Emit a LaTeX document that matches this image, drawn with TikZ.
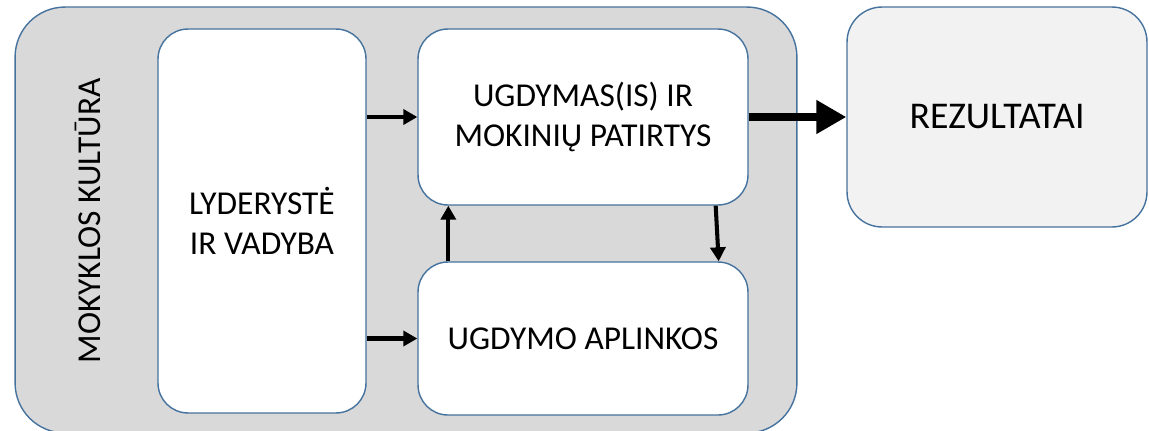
\documentclass[tikz,border=0pt]{standalone}
\usepackage{fontspec}
\setmainfont{Carlito}
\usetikzlibrary{arrows.meta, positioning}
\definecolor{edgeblue}{RGB}{70,114,158}
\definecolor{culturegray}{RGB}{217,217,217}
\definecolor{resultgray}{RGB}{242,242,242}
\tikzstyle{culture} = [
    rectangle,
    rounded corners=1cm,
    minimum width=15.64cm,
    minimum height=8.52cm,
    draw=edgeblue,
    line width=0.8pt,
    fill=culturegray
]
\tikzstyle{block} = [
    rectangle,
    rounded corners=0.6cm,
    align=center,
    draw=edgeblue,
    line width=0.8pt,
    fill=white,
    font=\fontsize{19}{22.5}\selectfont
]
\tikzstyle{result} = [
    block,
    rounded corners=0.7cm,
    fill=resultgray,
    font=\fontsize{21.5}{25}\selectfont
]
\tikzstyle{arrow} = [line width=2.3pt,-{Triangle[length=0.28cm,width=0.3cm]}]
\tikzstyle{bigarrow} = [line width=5pt,-{Triangle[length=0.6cm,width=0.64cm]}]

\begin{document}
\begin{tikzpicture}[x=0.02cm, y=-0.02cm]
\useasboundingbox (0,0) rectangle (1149,430);

% Nodes
\node (school) [culture] at (406,220) {};
\node (label) [rotate=90, font=\fontsize{19}{22}\selectfont] at (88,221) {MOKYKLOS KULTŪRA};
\node (lead) [block, minimum width=4.16cm, minimum height=7.68cm] at (262,221) {LYDERYSTĖ\\IR VADYBA};
\node (learn) [block, minimum width=6.6cm, minimum height=3.52cm] at (583,117) {UGDYMAS(IS) IR\\MOKINIŲ PATIRTYS};
\node (env) [block, minimum width=6.6cm, minimum height=3.06cm] at (583,338.5) {UGDYMO APLINKOS};
\node (res) [result, minimum width=6cm, minimum height=4.4cm] at (997,117) {REZULTATAI};

% Arrows
\draw [arrow] (lead.east |- learn.west) -- (learn.west);
\draw [arrow] (lead.east |- env.west) -- (env.west);
\draw [arrow] ([xshift=0.62cm]env.north west) -- ([xshift=0.62cm]learn.south west);
\draw [arrow] ([xshift=-0.66cm]learn.south east) -- ([xshift=-0.6cm]env.north east);
\draw [bigarrow] (learn.east) -- (res.west);

\end{tikzpicture}
\end{document}
